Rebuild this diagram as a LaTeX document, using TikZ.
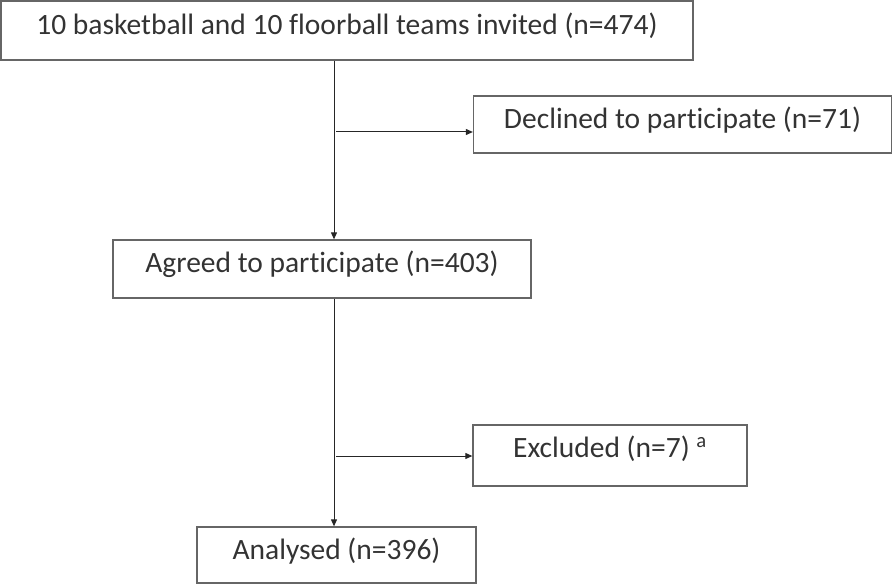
\documentclass[tikz,border=0pt]{standalone}
\usepackage{fontspec}
\setmainfont{Carlito}[Ligatures=NoCommon]
\usetikzlibrary{arrows.meta}

\begin{document}
\begin{tikzpicture}[x=1pt, y=-1pt,
    flowbox/.style={draw=black!60, line width=1.3pt, inner sep=0pt, text height=19pt,
        font=\fontsize{29.5}{34}\selectfont, text=black!80},
    flowline/.style={draw=black!85, line width=1pt, -{Triangle[length=7pt,width=6pt]}}]
    \useasboundingbox (0,0) rectangle (893,585);

    % Draw the boxes
    \node[flowbox, minimum width=692pt, minimum height=59pt, text depth=11pt] (invited) at (347,30.5)
        {10 basketball and 10 floorball teams invited (n=474)};
    \node[flowbox, minimum width=418pt, minimum height=57pt, text depth=11pt] (declined) at (682.5,124.5)
        {Declined to participate (n=71)};
    \node[flowbox, minimum width=418pt, minimum height=58pt, text depth=13pt] (agreed) at (322,269)
        {Agreed to participate (n=403)};
    \node[flowbox, minimum width=274pt, minimum height=61pt, text depth=16pt] (excluded) at (610,455.5)
        {Excluded (n=7) \textsuperscript{a}};
    \node[flowbox, minimum width=279pt, minimum height=56pt, text depth=11pt] (analysed) at (336.5,555)
        {Analysed (n=396)};

    % Split points on the main line
    \coordinate (split1) at (334,132);
    \coordinate (split2) at (334,456);

    % Draw the arrows
    \draw[flowline] (invited.south -| split1) -- (agreed.north -| split1);
    \draw[flowline] ([xshift=2pt]split1) -- (split1 -| declined.west);
    \draw[flowline] (agreed.south -| split2) -- (analysed.north -| split2);
    \draw[flowline] ([xshift=2pt]split2) -- (split2 -| excluded.west);
\end{tikzpicture}
\end{document}
